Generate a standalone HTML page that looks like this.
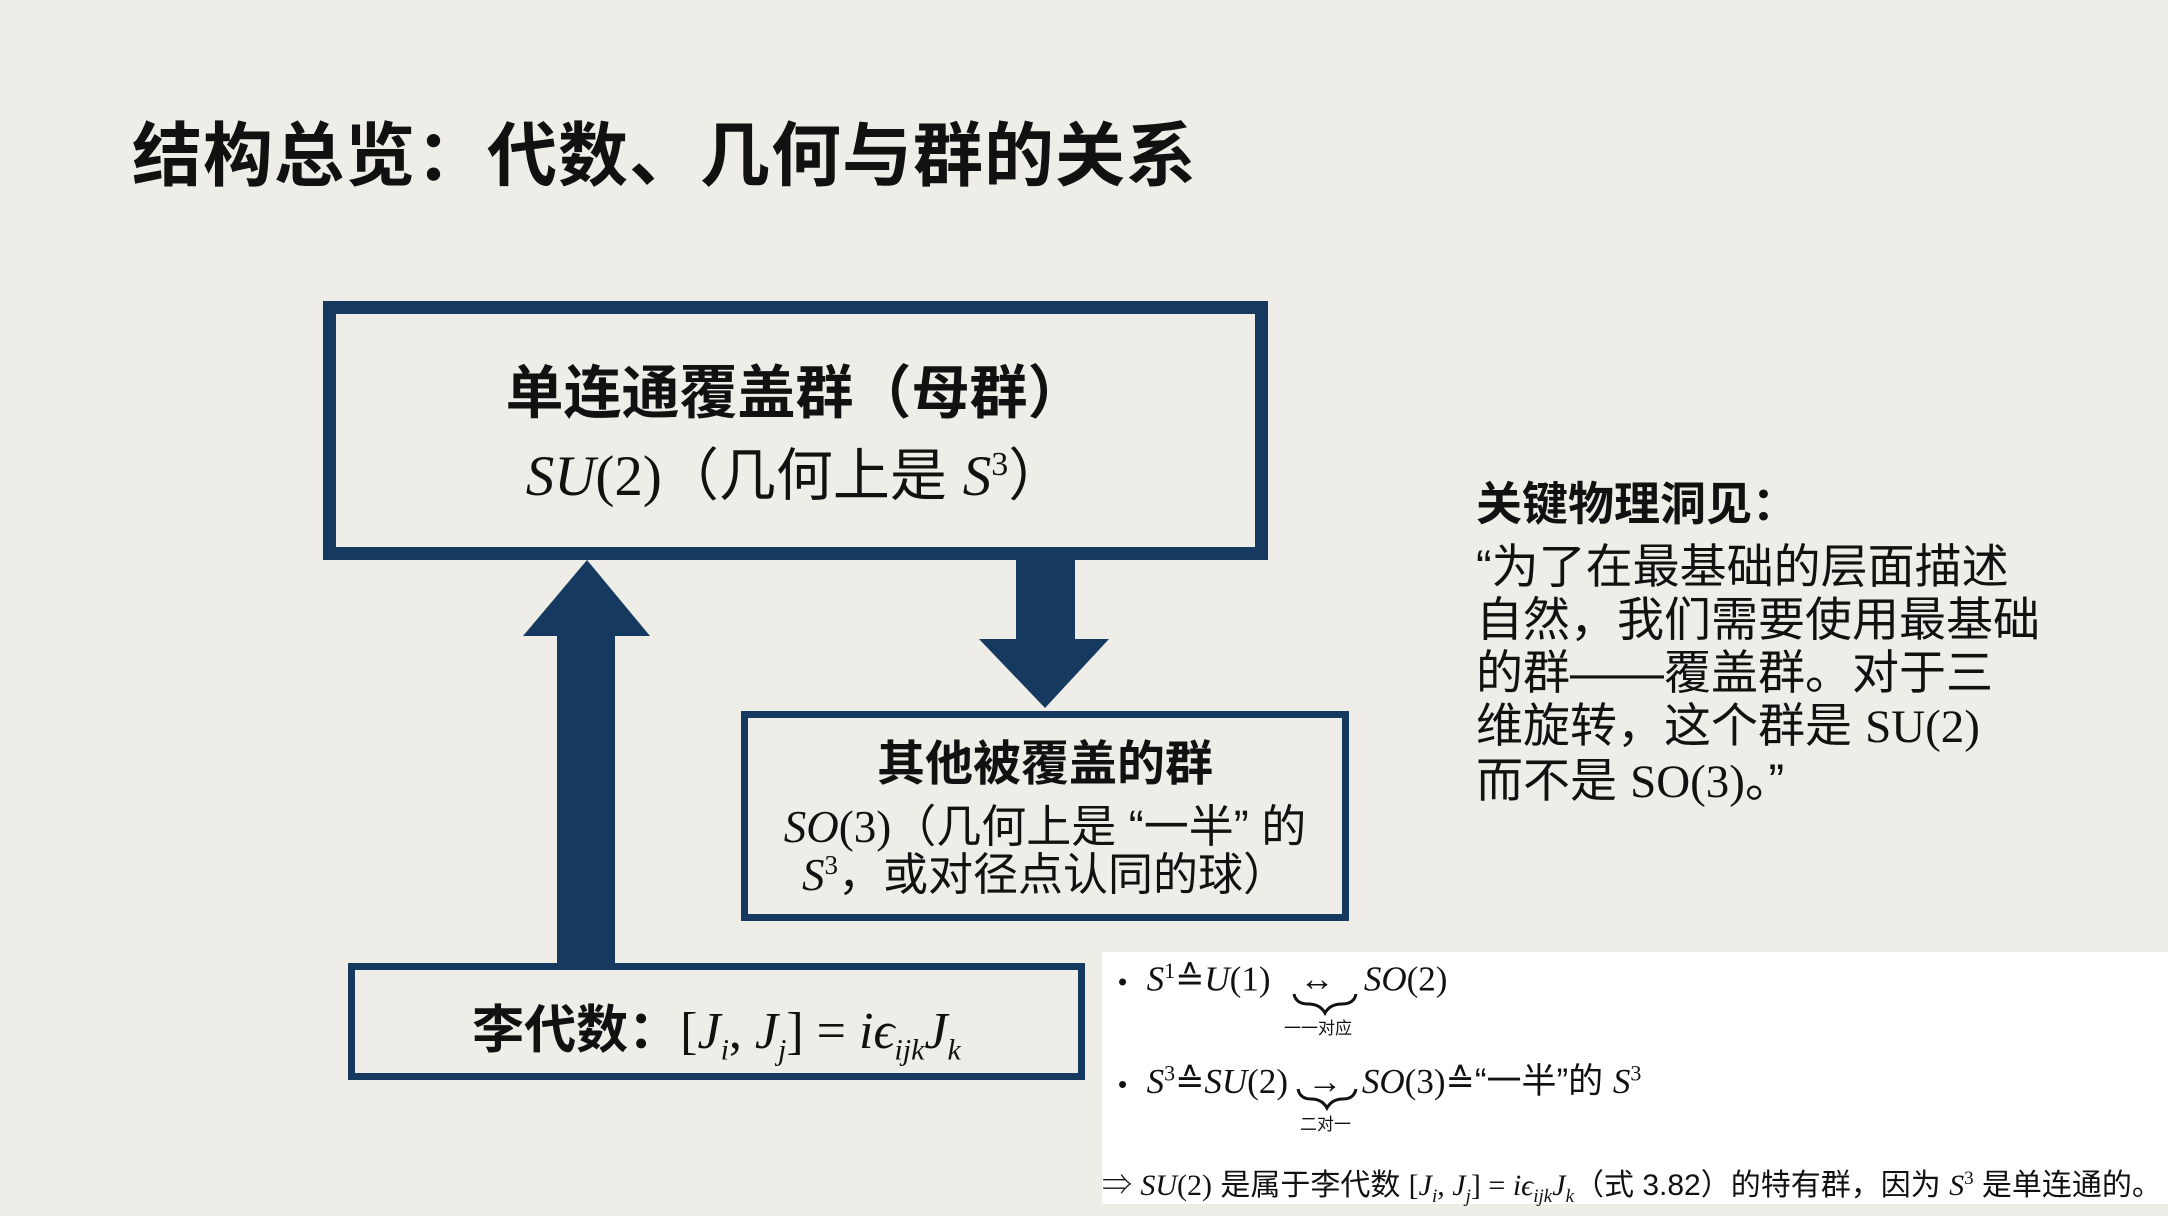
<!DOCTYPE html>
<html><head><meta charset="utf-8"><style>
body{margin:0;width:2168px;height:1216px;background:#efede7;position:relative;overflow:hidden;font-family:"Liberation Sans","Noto Sans CJK SC",sans-serif;color:#111}
.a{position:absolute;white-space:nowrap}
.m{font-family:"Liberation Serif","Noto Serif CJK SC",serif;font-style:italic}
.r{font-family:"Liberation Serif","Noto Serif CJK SC",serif}
.box{position:absolute;border:solid #163a5f;box-sizing:border-box;background:transparent}
</style></head><body>
<div class="a" style="left:132px;top:100px;font-size:70px;font-weight:bold;font-family:'Noto Sans CJK SC',sans-serif;letter-spacing:1px;">结构总览：代数、几何与群的关系</div>

<div class="box" style="left:323px;top:301px;width:945px;height:259px;border-width:13px;"></div>
<div class="a" style="left:323px;width:945px;top:346px;text-align:center;font-size:58px;font-weight:bold;">单连通覆盖群（母群）</div>
<div class="a" style="left:323px;width:945px;top:430px;text-align:center;font-size:57px;"><span class="m">SU</span><span class="r">(2)</span>（几何上是 <span class="m">S</span><sup class="r" style="font-size:34px">3</sup>）</div>

<svg class="a" style="left:0;top:0" width="2168" height="1216">
<polygon fill="#163a5f" points="557,963 557,636 523,636 587,560 650,636 615,636 615,963"/>
<polygon fill="#163a5f" points="1016,555 1075,555 1075,639 1109,639 1045,708 979,639 1016,639"/>
</svg>

<div class="box" style="left:741px;top:711px;width:608px;height:210px;border-width:7px;"></div>
<div class="a" style="left:741px;width:608px;top:724px;text-align:center;font-size:48px;font-weight:bold;">其他被覆盖的群</div>
<div class="a" style="left:741px;width:608px;top:790px;text-align:center;font-size:45px;"><span class="m">SO</span><span class="r">(3)</span>（几何上是 “一半” 的</div>
<div class="a" style="left:741px;width:608px;top:838px;text-align:center;font-size:45px;"><span class="m">S</span><sup class="r" style="font-size:27px">3</sup>，或对径点认同的球）</div>

<div class="box" style="left:348px;top:963px;width:737px;height:117px;border-width:7px;background:#efede7"></div>
<div class="a" style="left:348px;width:737px;top:988px;text-align:center;font-size:52px;"><b>李代数：</b><span class="r">[</span><span class="m">J<sub style="font-size:30px">i</sub></span><span class="r">, </span><span class="m">J<sub style="font-size:30px">j</sub></span><span class="r">] = </span><span class="m">iϵ<sub style="font-size:30px">ijk</sub>J<sub style="font-size:30px">k</sub></span></div>

<div class="a" style="left:1476px;top:468px;font-size:46px;font-weight:bold;">关键物理洞见：</div>
<div class="a" style="left:1476px;top:540px;font-size:47px;line-height:53px;">“为了在最基础的层面描述<br>自然，我们需要使用最基础<br>的群——覆盖群。对于三<br>维旋转，这个群是 <span class="r">SU(2)</span><br>而不是 <span class="r">SO(3)</span>。”</div>

<div class="a" style="left:1102px;top:952px;width:1066px;height:252px;background:#fff;"></div>
<svg class="a" style="left:0;top:0" width="2168" height="1216">
<path d="M1294,994 q2,10 14,10 q12,0 17,9 q5,-9 17,-9 q12,0 14,-10" fill="none" stroke="#111" stroke-width="3"/>
<path d="M1298,1089 q2,10 13,10 q11,0 16,9 q5,-9 16,-9 q11,0 13,-10" fill="none" stroke="#111" stroke-width="3"/>
</svg>
<div class="a" style="left:1118px;top:958px;font-size:35px;"><span style="font-size:26px">•</span>&nbsp; <span class="m">S</span><sup class="r" style="font-size:22px">1</sup><span class="r">≙</span><span class="m">U</span><span class="r">(1)</span>&nbsp;&nbsp;&nbsp;<span class="r">↔</span>&nbsp;&nbsp;&nbsp;<span class="m">SO</span><span class="r">(2)</span></div>
<div class="a" style="left:1284px;top:1014px;font-size:17px;">一一对应</div>
<div class="a" style="left:1118px;top:1053px;font-size:35px;"><span style="font-size:26px">•</span>&nbsp; <span class="m">S</span><sup class="r" style="font-size:22px">3</sup><span class="r">≙</span><span class="m">SU</span><span class="r">(2)</span>&nbsp;&nbsp;<span class="r">→</span>&nbsp;&nbsp;<span class="m">SO</span><span class="r">(3)≙</span>“一半”的 <span class="m">S</span><sup class="r" style="font-size:22px">3</sup></div>
<div class="a" style="left:1300px;top:1110px;font-size:17px;">二对一</div>
<div class="a" style="left:1102px;top:1160px;font-size:30px;"><span class="r">⇒</span> <span class="m">SU</span><span class="r">(2)</span> 是属于李代数 <span class="r">[</span><span class="m">J<sub style="font-size:19px">i</sub></span><span class="r">, </span><span class="m">J<sub style="font-size:19px">j</sub></span><span class="r">] = </span><span class="m">iϵ<sub style="font-size:19px">ijk</sub>J<sub style="font-size:19px">k</sub></span>（式 3.82）的特有群，因为 <span class="m">S</span><sup class="r" style="font-size:19px">3</sup> 是单连通的。</div>
</body></html>
